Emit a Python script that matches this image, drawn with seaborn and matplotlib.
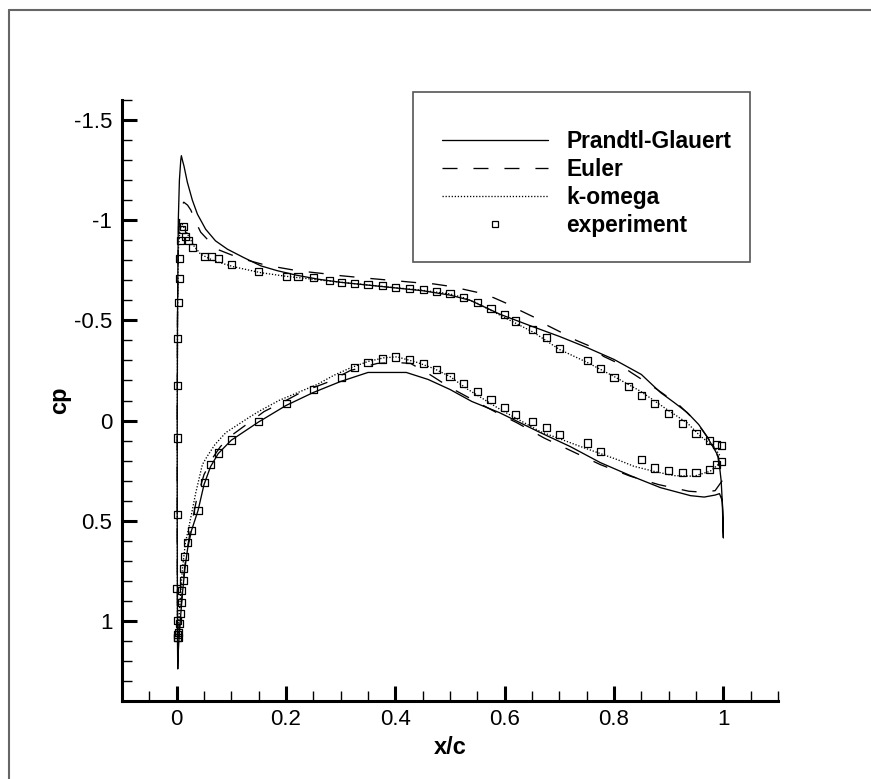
import numpy as np
import pandas as pd
import matplotlib
matplotlib.use("Agg")
import matplotlib.pyplot as plt
import seaborn as sns
from matplotlib.ticker import MultipleLocator, FuncFormatter, FixedLocator
from matplotlib.lines import Line2D
from matplotlib.patches import Rectangle

# ---------------- data ----------------
models = ["Prandtl-Glauert", "Euler", "k-omega"]

pg_upper_x = [0.002, 0.0015, 0.001, 0.001, 0.0015, 0.003, 0.005, 0.0075, 0.0086, 0.0105, 0.0134,
              0.0195, 0.0287, 0.038, 0.053, 0.071, 0.093, 0.123, 0.154, 0.184, 0.22, 0.26, 0.30,
              0.35, 0.40, 0.45, 0.50, 0.537, 0.592, 0.65, 0.70, 0.75, 0.80, 0.85, 0.885, 0.91,
              0.934, 0.955, 0.97, 0.985, 0.991, 0.996, 0.999, 1.0]
pg_upper_cp = [1.24, 1.10, 0.50, 0.0, -0.50, -1.0, -1.20, -1.30, -1.322, -1.30, -1.27,
               -1.19, -1.10, -1.03, -0.955, -0.897, -0.855, -0.813, -0.772, -0.748, -0.725, -0.705, -0.69,
               -0.676, -0.662, -0.648, -0.626, -0.60, -0.53, -0.47, -0.42, -0.365, -0.305, -0.23, -0.14, -0.09,
               -0.04, 0.02, 0.08, 0.15, 0.18, 0.30, 0.45, 0.585]
pg_lower_x = [0.002, 0.003, 0.005, 0.008, 0.011, 0.015, 0.02, 0.027, 0.039, 0.05, 0.062, 0.076,
              0.10, 0.15, 0.20, 0.25, 0.30, 0.35, 0.42, 0.46, 0.50, 0.54, 0.59, 0.665, 0.72, 0.775,
              0.83, 0.885, 0.94, 0.965, 0.985, 0.993, 0.998, 1.0]
pg_lower_cp = [1.24, 1.15, 1.06, 0.95, 0.85, 0.74, 0.64, 0.55, 0.45, 0.32, 0.23, 0.165,
               0.098, 0.007, -0.075, -0.14, -0.195, -0.24, -0.24, -0.205, -0.155, -0.095, -0.04, 0.06, 0.13, 0.21,
               0.275, 0.335, 0.375, 0.382, 0.372, 0.365, 0.40, 0.585]

eu_upper_x = [0.002, 0.0015, 0.001, 0.001, 0.0015, 0.003, 0.006, 0.009, 0.013, 0.02, 0.026, 0.035,
              0.044, 0.056, 0.074, 0.10, 0.13, 0.157, 0.185, 0.21, 0.24, 0.27, 0.30, 0.35, 0.40,
              0.44, 0.47, 0.50, 0.525, 0.553, 0.58, 0.605, 0.63, 0.656, 0.68, 0.705, 0.731, 0.757,
              0.781, 0.806, 0.83, 0.851, 0.879, 0.897, 0.921, 0.94, 0.961, 0.976, 0.99, 0.998]
eu_upper_cp = [1.20, 1.08, 0.50, 0.0, -0.50, -0.90, -1.03, -1.07, -1.09, -1.075, -1.05, -0.99,
               -0.94, -0.905, -0.855, -0.827, -0.80, -0.78, -0.765, -0.753, -0.742, -0.733, -0.723, -0.71, -0.698,
               -0.688, -0.682, -0.67, -0.655, -0.638, -0.613, -0.583, -0.547, -0.513, -0.472, -0.438, -0.40, -0.37,
               -0.32, -0.288, -0.242, -0.205, -0.155, -0.12, -0.072, -0.022, 0.045, 0.103, 0.18, 0.30]
eu_lower_x = [0.002, 0.004, 0.008, 0.012, 0.017, 0.025, 0.036, 0.05, 0.065, 0.08, 0.10, 0.13,
              0.16, 0.20, 0.227, 0.275, 0.318, 0.367, 0.40, 0.428, 0.46, 0.50, 0.544, 0.585, 0.623,
              0.672, 0.723, 0.775, 0.83, 0.882, 0.937, 0.964, 0.985, 0.998]
eu_lower_cp = [1.20, 1.08, 0.93, 0.80, 0.68, 0.55, 0.40, 0.27, 0.19, 0.13, 0.075, 0.015,
               -0.045, -0.10, -0.14, -0.19, -0.25, -0.285, -0.29, -0.285, -0.235, -0.165, -0.10, -0.04, 0.012,
               0.087, 0.153, 0.22, 0.278, 0.32, 0.353, 0.358, 0.35, 0.30]

ko_upper_x = [0.0024, 0.0015, 0.0012, 0.0012, 0.0015, 0.003, 0.006, 0.010, 0.015, 0.022, 0.032,
              0.044, 0.068, 0.105, 0.154, 0.20, 0.25, 0.30, 0.35, 0.40, 0.45, 0.50, 0.525, 0.55,
              0.592, 0.653, 0.70, 0.751, 0.80, 0.848, 0.897, 0.934, 0.958, 0.982, 0.995]
ko_upper_cp = [1.08, 1.00, 0.50, 0.0, -0.50, -0.85, -0.95, -0.98, -0.955, -0.92, -0.87,
               -0.83, -0.797, -0.767, -0.738, -0.72, -0.705, -0.69, -0.677, -0.663, -0.65, -0.632, -0.613, -0.585,
               -0.525, -0.44, -0.355, -0.29, -0.22, -0.147, -0.055, 0.012, 0.078, 0.128, 0.18]
ko_lower_x = [0.0024, 0.0043, 0.0073, 0.0104, 0.016, 0.0225, 0.035, 0.047, 0.056, 0.07, 0.09,
              0.135, 0.15, 0.187, 0.20, 0.257, 0.287, 0.318, 0.35, 0.379, 0.403, 0.44, 0.47, 0.50,
              0.53, 0.592, 0.665, 0.739, 0.806, 0.836, 0.872, 0.909, 0.946, 0.976, 0.995]
ko_lower_cp = [1.08, 0.98, 0.86, 0.745, 0.61, 0.53, 0.36, 0.22, 0.178, 0.12, 0.06,
               -0.02, -0.045, -0.10, -0.115, -0.18, -0.225, -0.263, -0.295, -0.313, -0.318, -0.29, -0.26, -0.22,
               -0.16, -0.055, 0.055, 0.13, 0.195, 0.228, 0.253, 0.275, 0.278, 0.253, 0.21]

exp_x = [0.002, 0.001, 0.001, 0.0, 0.001, 0.002, 0.002, 0.002, 0.004, 0.005, 0.006, 0.007, 0.009,
         0.012, 0.016, 0.021, 0.029, 0.051, 0.063, 0.076, 0.101, 0.15, 0.201, 0.222, 0.25, 0.28,
         0.301, 0.325, 0.35, 0.377, 0.40, 0.426, 0.451, 0.476, 0.50, 0.525, 0.551, 0.575, 0.60,
         0.62, 0.651, 0.676, 0.70, 0.751, 0.775, 0.80, 0.826, 0.85, 0.874, 0.90, 0.925, 0.95,
         0.975, 0.987, 0.996,
         0.996, 0.987, 0.975, 0.95, 0.925, 0.90, 0.874, 0.85, 0.775, 0.751, 0.70, 0.676, 0.651,
         0.62, 0.60, 0.575, 0.551, 0.525, 0.50, 0.476, 0.451, 0.426, 0.401, 0.376, 0.35, 0.325,
         0.301, 0.251, 0.201, 0.15, 0.101, 0.076, 0.062, 0.051, 0.039, 0.027, 0.0195, 0.015,
         0.013, 0.012, 0.009, 0.0085, 0.007, 0.0055, 0.004, 0.0025]
exp_cp = [1.085, 1.07, 1.0, 0.84, 0.47, 0.087, -0.177, -0.41, -0.59, -0.71, -0.81, -0.897, -0.955,
          -0.968, -0.92, -0.897, -0.864, -0.82, -0.82, -0.807, -0.78, -0.743, -0.72, -0.718, -0.713, -0.70,
          -0.69, -0.685, -0.678, -0.673, -0.665, -0.66, -0.652, -0.643, -0.633, -0.612, -0.588, -0.56, -0.53,
          -0.497, -0.455, -0.413, -0.358, -0.30, -0.26, -0.217, -0.172, -0.127, -0.083, -0.035, 0.017, 0.067,
          0.10, 0.12, 0.125,
          0.203, 0.22, 0.245, 0.258, 0.258, 0.248, 0.237, 0.195, 0.153, 0.112, 0.07, 0.037, 0.003,
          -0.03, -0.067, -0.105, -0.147, -0.183, -0.22, -0.255, -0.283, -0.305, -0.317, -0.307, -0.29, -0.265,
          -0.217, -0.153, -0.085, 0.005, 0.097, 0.162, 0.22, 0.308, 0.448, 0.55, 0.61, 0.68,
          0.74, 0.80, 0.85, 0.91, 0.965, 1.015, 1.06, 1.085]

x_ticks = [0, 0.2, 0.4, 0.6, 0.8, 1]
y_ticks = [-1.5, -1, -0.5, 0, 0.5, 1]

# ---------------- build table ----------------
curves = {
    "Prandtl-Glauert": (pg_lower_x, pg_lower_cp, pg_upper_x, pg_upper_cp),
    "Euler": (eu_lower_x, eu_lower_cp, eu_upper_x, eu_upper_cp),
    "k-omega": (ko_lower_x, ko_lower_cp, ko_upper_x, ko_upper_cp),
}
frames = []
for name, (lx, lc, ux, uc) in curves.items():
    xs = list(reversed(lx)) + list(ux)
    cs = list(reversed(lc)) + list(uc)
    frames.append(pd.DataFrame({"x": xs, "cp": cs, "model": name}))
lines_df = pd.concat(frames, ignore_index=True)
exp_df = pd.DataFrame({"x": exp_x, "cp": exp_cp})

# ---------------- style ----------------
sns.set_theme(style="ticks")
plt.rcParams.update({
    "font.family": ["Liberation Sans", "DejaVu Sans"],
    "axes.unicode_minus": False,
    "lines.scale_dashes": False,
    "text.color": "black",
    "axes.labelcolor": "black",
    "xtick.color": "black",
    "ytick.color": "black",
})

fig = plt.figure(figsize=(8.71, 7.79), dpi=100)
fig.patch.set_facecolor("white")
ax = fig.add_axes([122 / 871, 1 - 701 / 779, 656 / 871, 601 / 779])
ax.set_facecolor("white")

dash_euler = (10.8, 11.5)
dash_dot = (0.9, 1.3)
dash_map = {"Prandtl-Glauert": "", "Euler": dash_euler, "k-omega": dash_dot}

sns.lineplot(data=lines_df, x="x", y="cp", style="model", style_order=models,
             dashes=dash_map, estimator=None, sort=False, color="black",
             linewidth=0.95, legend=False, ax=ax)

sns.scatterplot(data=exp_df, x="x", y="cp", marker="s", s=26, color="black",
                linewidth=0.9, legend=False, ax=ax, zorder=3)
coll = ax.collections[-1]
coll.set_facecolor("none")
coll.set_edgecolor("black")

ax.set_xlim(-0.1, 1.1)
ax.set_ylim(1.4, -1.6)

ax.xaxis.set_major_locator(FixedLocator(x_ticks))
ax.yaxis.set_major_locator(FixedLocator(y_ticks))
ax.xaxis.set_minor_locator(MultipleLocator(0.05))
ax.yaxis.set_minor_locator(MultipleLocator(0.1))
fmt = FuncFormatter(lambda v, p: "0" if abs(v) < 1e-9 else f"{v:g}")
ax.xaxis.set_major_formatter(fmt)
ax.yaxis.set_major_formatter(fmt)

for s in ["top", "right"]:
    ax.spines[s].set_visible(False)
for s in ["left", "bottom"]:
    ax.spines[s].set_linewidth(2.2)
    ax.spines[s].set_color("black")

ax.tick_params(which="major", direction="in", length=11, width=2.2, labelsize=16, pad=7)
ax.tick_params(which="minor", direction="in", length=7, width=1.0)
ax.tick_params(axis="x", which="major", pad=6)

ax.set_xlabel("x/c", fontsize=17, fontweight="bold", labelpad=4)
ax.set_ylabel("cp", fontsize=17, fontweight="bold", labelpad=2)
ax.grid(False)

# legend box (frame drawn separately for exact padding)
box = Rectangle((413 / 871, 1 - 262 / 779), 337 / 871, 170 / 779, transform=fig.transFigure,
                facecolor="white", edgecolor="#555555", linewidth=1.2, clip_on=False, zorder=4)
ax.add_artist(box)

handles = [
    Line2D([], [], color="black", lw=0.95, ls="-"),
    Line2D([], [], color="black", lw=0.95, ls=(0, dash_euler)),
    Line2D([], [], color="black", lw=0.95, ls=(0, dash_dot)),
    Line2D([], [], ls="none", marker="s", ms=4, mfc="none", mec="black", mew=0.9),
]
leg = ax.legend(handles, models + ["experiment"], loc="upper left",
                bbox_to_anchor=(442 / 871, 1 - 129.5 / 779), bbox_transform=fig.transFigure,
                borderaxespad=0, borderpad=0, prop={"weight": "bold", "size": 16.4},
                handlelength=4.65, handletextpad=0.8, labelspacing=0.22,
                frameon=False)
leg.set_zorder(5)

# figure border (left and top)
fig.add_artist(Line2D([8.5 / 871, 8.5 / 871], [0, 1 - 9.5 / 779], transform=fig.transFigure,
                      color="#666666", lw=1.5))
fig.add_artist(Line2D([8.5 / 871, 1], [1 - 9.5 / 779, 1 - 9.5 / 779], transform=fig.transFigure,
                      color="#666666", lw=1.5))

fig.savefig("out.png", dpi=100)
